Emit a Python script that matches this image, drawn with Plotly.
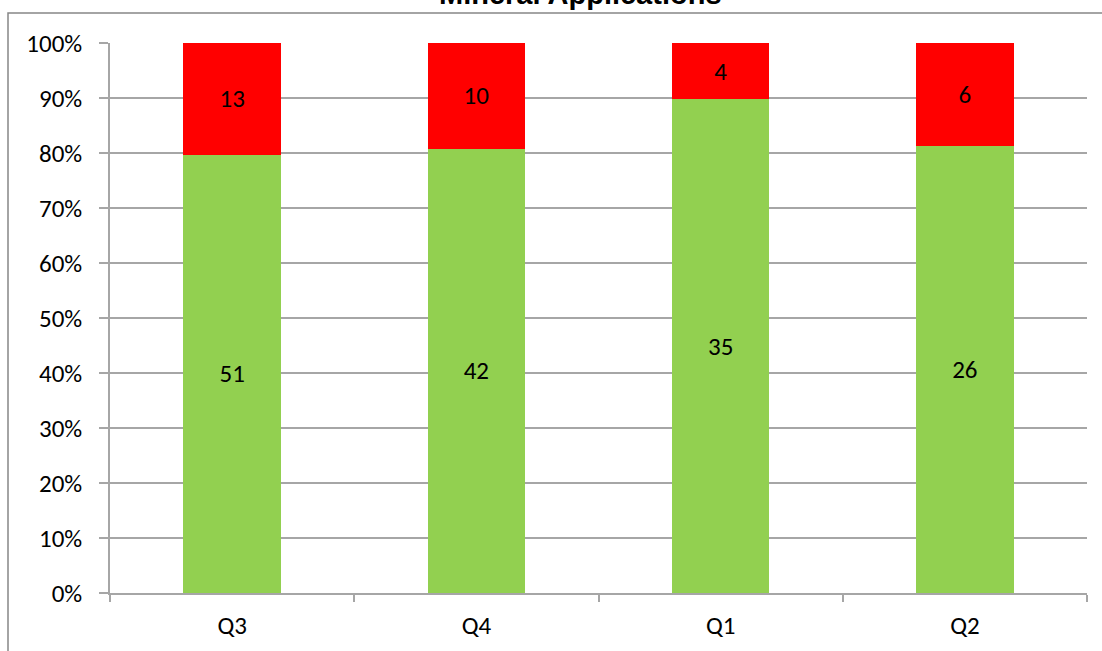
import plotly.graph_objects as go

categories = ["Q3", "Q4", "Q1", "Q2"]
green_values = [51, 42, 35, 26]
red_values = [13, 10, 4, 6]
y_ticks = [0, 10, 20, 30, 40, 50, 60, 70, 80, 90, 100]
y_tick_labels = [f"{v}%" for v in y_ticks]

W, H = 1102, 651
L, R, T, B = 110, 1087, 43, 593

FONT = "Calibri, Carlito, Lato, sans-serif"
FS = 25
GRID = "#A6A6A6"

fig = go.Figure()
for vals, col in ((green_values, "#92D050"), (red_values, "#FF0000")):
    fig.add_trace(go.Bar(x=categories, y=vals, marker_color=col,
                         text=[str(v) for v in vals], textposition="inside",
                         insidetextanchor="middle", textangle=0,
                         textfont=dict(family=FONT, size=FS, color="black"),
                         marker_line_width=0, hoverinfo="skip"))

def px_x(p):
    return (p - L) / (R - L)

def px_y(p):
    return (B - p) / (B - T)

fig.update_layout(
    width=W, height=H,
    margin=dict(l=L, r=W - R, t=T, b=H - B, autoexpand=False),
    barmode="stack", barnorm="percent", bargap=0.6,
    showlegend=False,
    plot_bgcolor="white", paper_bgcolor="white",
    font=dict(family=FONT, size=FS, color="black"),
    uniformtext=dict(minsize=8, mode="show"),
)
fig.update_xaxes(showgrid=False, showline=True, linecolor=GRID, linewidth=1.5,
                 ticks="outside", tickson="boundaries", ticklen=7, tickcolor=GRID,
                 tickwidth=1.5, ticklabelstandoff=9,
                 tickfont=dict(family=FONT, size=FS, color="black"))
fig.update_yaxes(range=[0, 100], tickmode="array", tickvals=y_ticks,
                 ticktext=y_tick_labels,
                 showgrid=True, gridcolor=GRID, gridwidth=1.5,
                 showline=True, linecolor=GRID, linewidth=1.5,
                 ticks="outside", ticklen=9, tickcolor=GRID, tickwidth=1.5,
                 ticklabelstandoff=12, zeroline=False,
                 tickfont=dict(family=FONT, size=FS, color="black"))

# outer chart border
fig.add_shape(type="rect", xref="paper", yref="paper",
              x0=px_x(8), x1=px_x(1140), y0=px_y(700), y1=px_y(13),
              line=dict(color="#868686", width=1.5), fillcolor="rgba(0,0,0,0)",
              layer="below")

fig.add_annotation(text="<b>Mineral Applications</b>", xref="paper", yref="paper",
                   x=px_x(580), y=px_y(-6), xanchor="center", yanchor="middle",
                   showarrow=False,
                   font=dict(family="Arial, Liberation Sans", size=29, color="black"))

fig.write_html("out.html", config={"displayModeBar": False},
               post_script="document.body.style.margin='0';")
